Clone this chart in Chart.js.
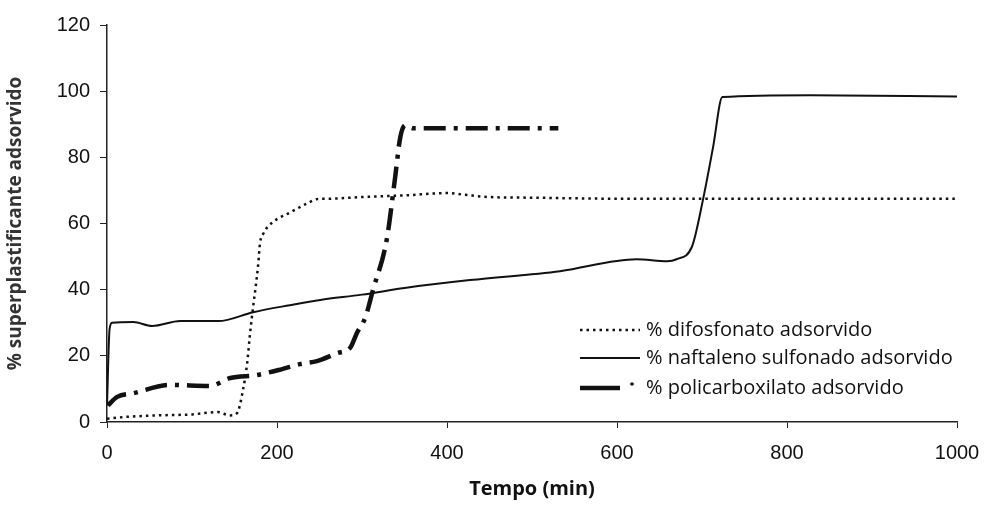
<!DOCTYPE html>
<html>
<head>
<meta charset="utf-8">
<script src="https://cdn.jsdelivr.net/npm/chart.js@4/dist/chart.umd.min.js"></script>
<style>
  html, body { margin: 0; padding: 0; background: #fff; }
</style>
</head>
<body>
<canvas id="chart" width="986" height="505"></canvas>
<script>
// values (time in min, % adsorbed)
const difosfonatoT = [0, 20, 60, 100, 130, 145, 153, 160, 165, 168, 172, 175, 178, 180, 184, 195, 213, 235, 248, 262, 300, 350, 400, 420, 450, 500, 600, 700, 800, 900, 1000];
const difosfonatoV = [1, 1.5, 2, 2.3, 3, 2, 2.7, 9.7, 18, 26, 35, 41, 48, 54, 57, 60.4, 63, 66, 67.4, 67.5, 68, 68.5, 69.2, 68.7, 68, 67.8, 67.5, 67.5, 67.5, 67.5, 67.5];

const naftalenoT = [0, 3, 6, 31, 53, 86, 131, 172, 215, 251, 300, 350, 427, 533, 623, 659, 670, 688, 701, 713, 724, 827, 1000];
const naftalenoV = [5, 28, 30, 30.2, 29, 30.5, 30.5, 33.2, 35.3, 36.9, 38.5, 40.5, 42.9, 45.6, 49.2, 48.6, 49.2, 52.9, 67, 83, 98.2, 98.8, 98.4];

const policarbT = [1, 12, 31, 74, 121, 145, 176, 206, 227, 247, 271, 286, 294, 304, 313, 329, 339, 345, 351, 360, 450, 531];
const policarbV = [5, 7.6, 8.7, 11.2, 10.9, 13.3, 14.2, 16, 17.5, 18.4, 20.8, 22.4, 26.9, 31.7, 40, 55, 74, 86, 89.7, 88.8, 88.8, 88.8];

const seriesNames = ['% difosfonato adsorvido', '% naftaleno sulfonado adsorvido', '% policarboxilato adsorvido'];
const xTicks = [0, 200, 400, 600, 800, 1000];
const yTicks = [0, 20, 40, 60, 80, 100, 120];

function pts(t, v) {
  return t.map((x, i) => ({ x: x, y: v[i] }));
}

const styles = [
  { borderWidth: 2.5, borderDash: [2.5, 4] },
  { borderWidth: 2, borderDash: [] },
  { borderWidth: 4.5, borderDash: [22, 8, 4, 8] }
];

// legend drawn inside the plot, like the original figure
const innerLegend = {
  id: 'innerLegend',
  afterDraw(chart) {
    const ctx = chart.ctx;
    const x0 = 580, x1 = 640, tx = 646;
    const rows = [330, 358, 388];
    ctx.save();
    ctx.fillStyle = '#111';
    ctx.font = '20px "Open Sans", "Noto Sans", sans-serif';
    ctx.textBaseline = 'middle';
    rows.forEach((y, i) => {
      const st = styles[i];
      ctx.beginPath();
      ctx.strokeStyle = '#111';
      ctx.lineWidth = st.borderWidth;
      ctx.setLineDash(i === 0 ? [2.5, 4] : []);
      ctx.moveTo(x0, y);
      ctx.lineTo(i === 2 ? 620 : x1, y);
      ctx.stroke();
      ctx.setLineDash([]);
      if (i === 2) {
        ctx.beginPath();
        ctx.arc(632, y - 4, 1.8, 0, Math.PI * 2);
        ctx.fill();
      }
      ctx.fillText(seriesNames[i], tx, y);
    });
    ctx.restore();
  }
};

const ctx = document.getElementById('chart');
new Chart(ctx, {
  type: 'line',
  data: {
    datasets: [
      { label: seriesNames[0], data: pts(difosfonatoT, difosfonatoV) },
      { label: seriesNames[1], data: pts(naftalenoT, naftalenoV) },
      { label: seriesNames[2], data: pts(policarbT, policarbV) }
    ].map((d, i) => Object.assign(d, {
      borderColor: '#111',
      backgroundColor: '#111',
      borderWidth: styles[i].borderWidth,
      borderDash: styles[i].borderDash,
      pointRadius: 0,
      cubicInterpolationMode: 'monotone',
      fill: false
    }))
  },
  options: {
    responsive: false,
    animation: false,
    devicePixelRatio: 1,
    layout: { padding: { top: 25, right: 29, left: 0, bottom: 0 } },
    plugins: {
      legend: { display: false },
      tooltip: { enabled: false }
    },
    scales: {
      x: {
        type: 'linear',
        min: 0,
        max: 1000,
        afterFit(s) {
          s.height = 83;
          s.paddingLeft = 0;
          s.paddingRight = 0;
        },
        afterBuildTicks(s) { s.ticks = xTicks.map(v => ({ value: v })); },
        border: { color: '#222', width: 1.5 },
        grid: { drawOnChartArea: false, color: '#222', tickLength: 6 },
        ticks: {
          color: '#111',
          font: { family: 'Liberation Sans, Arial, sans-serif', size: 20 },
          padding: 13,
          autoSkip: false,
          maxRotation: 0,
          callback: v => String(v)
        },
        title: {
          display: true,
          text: 'Tempo (min)',
          color: '#111',
          font: { family: '"Open Sans", "Noto Sans", sans-serif', size: 20, weight: 'bold' },
          padding: { top: 4 }
        }
      },
      y: {
        min: 0,
        max: 120,
        afterFit(s) {
          s.width = 107;
          s.paddingTop = 0;
          s.paddingBottom = 0;
        },
        afterBuildTicks(s) { s.ticks = yTicks.map(v => ({ value: v })); },
        border: { color: '#222', width: 1.5 },
        grid: { drawOnChartArea: false, color: '#222', tickLength: 7 },
        ticks: {
          color: '#111',
          font: { family: 'Liberation Sans, Arial, sans-serif', size: 20 },
          padding: 10,
          autoSkip: false
        },
        title: {
          display: true,
          text: '% superplastificante adsorvido',
          color: '#333',
          font: { family: '"Open Sans", "Noto Sans", sans-serif', size: 19, weight: 'bold' },
          padding: { bottom: 4 }
        }
      }
    }
  },
  plugins: [innerLegend]
});
</script>
</body>
</html>
